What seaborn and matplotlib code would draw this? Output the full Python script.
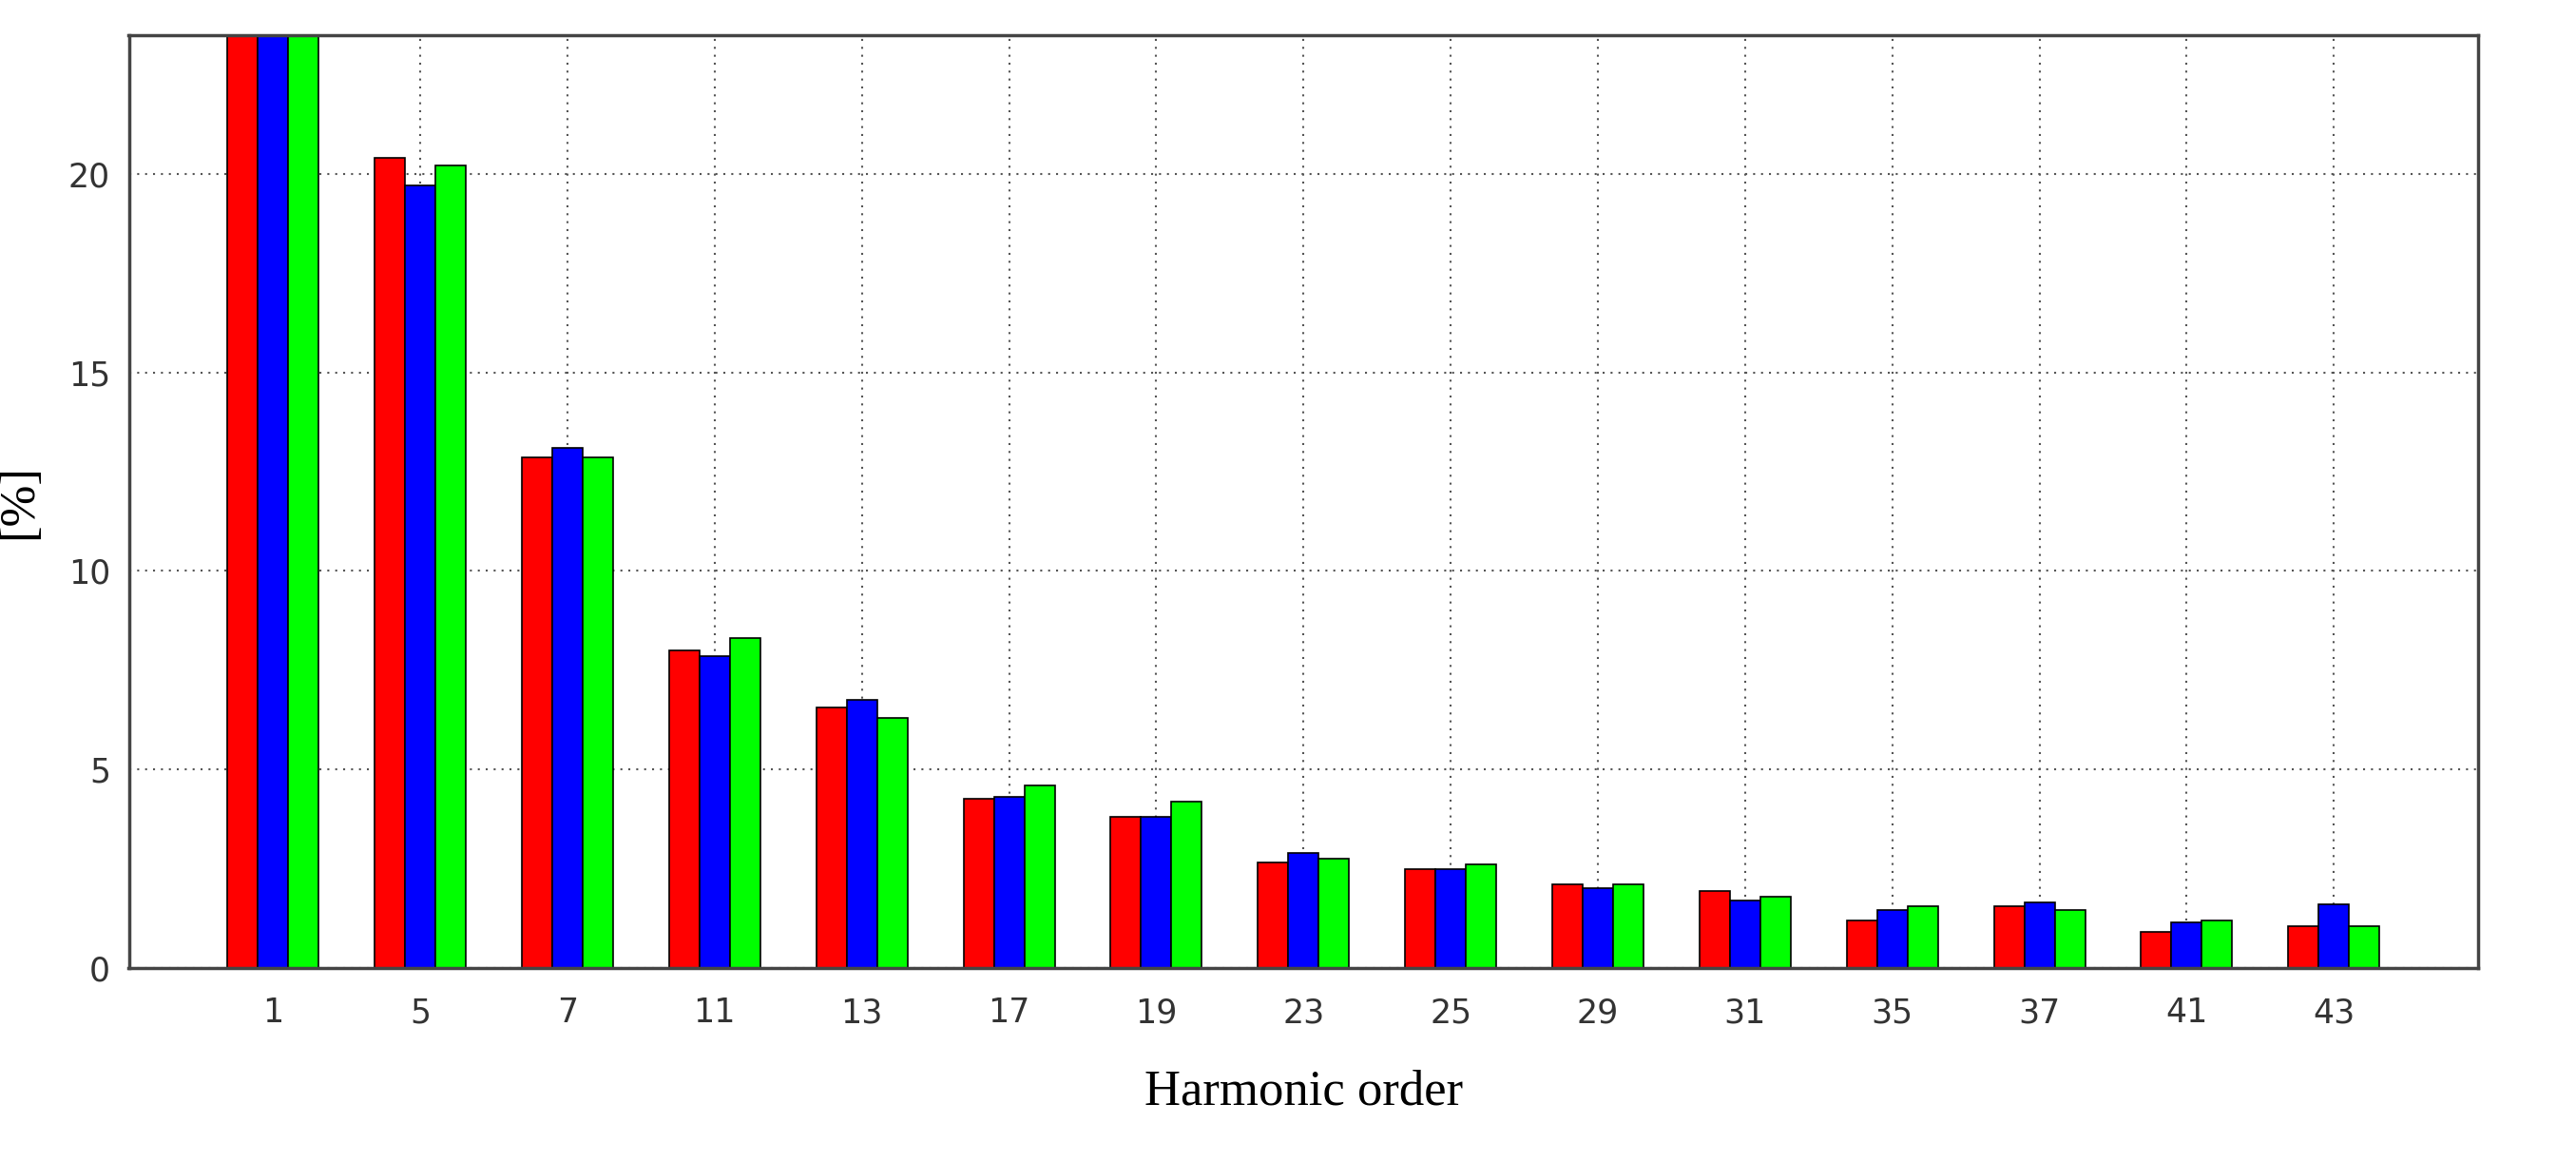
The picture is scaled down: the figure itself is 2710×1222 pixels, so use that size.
import pandas as pd
import matplotlib
matplotlib.use("Agg")
import matplotlib.pyplot as plt
import seaborn as sns

# Harmonic orders and the three phase values [%]
orders = ["1", "5", "7", "11", "13", "17", "19", "23", "25", "29", "31", "35", "37", "41", "43"]
phase_a = [100, 20.4, 12.85, 8.0, 6.55, 4.25, 3.8, 2.65, 2.5, 2.1, 1.95, 1.2, 1.55, 0.9, 1.05]
phase_b = [100, 19.7, 13.1, 7.85, 6.75, 4.3, 3.8, 2.9, 2.5, 2.0, 1.7, 1.45, 1.65, 1.15, 1.6]
phase_c = [100, 20.2, 12.85, 8.3, 6.3, 4.6, 4.2, 2.75, 2.6, 2.1, 1.8, 1.55, 1.45, 1.2, 1.05]

df = pd.DataFrame({"order": orders * 3,
                   "value": phase_a + phase_b + phase_c,
                   "phase": ["a"] * 15 + ["b"] * 15 + ["c"] * 15})

sns.set_style("white")
fig = plt.figure(figsize=(27.1, 12.22), dpi=100)
ax = fig.add_axes([0.05, 0.167, 0.912, 0.803])

sns.barplot(data=df, x="order", y="value", hue="phase", order=orders,
            palette=["#ff0000", "#0000ff", "#00ff00"], saturation=1, width=0.62,
            edgecolor="black", linewidth=1.2, legend=False, ax=ax)

ax.set_ylim(0, 23.5)
ax.set_xlim(-0.98, 14.98)
ax.set_yticks([0, 5, 10, 15, 20])
ax.grid(True, color="#555555", linestyle=(0, (1, 3)), linewidth=1.5)
ax.set_axisbelow(True)
for s in ax.spines.values():
    s.set_linewidth(2.5)
    s.set_color("#444444")
ax.tick_params(axis="both", labelsize=25, colors="#333333", direction="in", length=8)
ax.tick_params(axis="x", pad=22)
ax.tick_params(axis="y", pad=14)
ax.set_xlabel("Harmonic order", family="Liberation Serif", fontsize=38, color="black", labelpad=30)
ax.set_ylabel("[%]", family="Liberation Serif", fontsize=38, color="black", labelpad=20)

fig.savefig("out.png", dpi=100)
